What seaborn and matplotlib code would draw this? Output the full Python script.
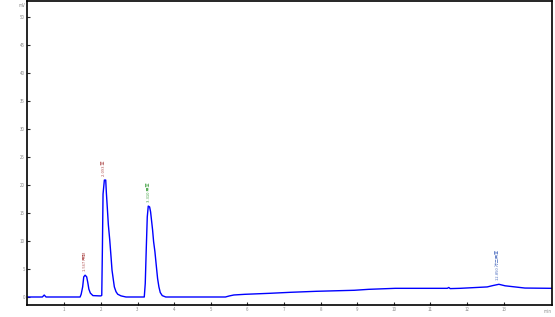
import matplotlib
matplotlib.use("Agg")
import matplotlib.pyplot as plt
import matplotlib.transforms as mtransforms
import seaborn as sns
import pandas as pd

# Chromatogram trace (time in min, signal in mV)
time_min = [0.00, 0.40, 0.45, 0.50, 1.43, 1.46, 1.50, 1.53, 1.567, 1.61, 1.64, 1.67, 1.71,
            1.78, 1.95, 2.00, 2.022, 2.04, 2.057, 2.093, 2.13, 2.148, 2.175, 2.202, 2.24,
            2.275, 2.302, 2.34, 2.366, 2.411, 2.457, 2.548, 2.684, 3.183, 3.21, 3.238,
            3.265, 3.292, 3.329, 3.356, 3.383, 3.41, 3.438, 3.474, 3.51, 3.547, 3.583,
            3.62, 3.674, 3.77, 5.40, 5.50, 5.63, 5.93, 6.61, 7.18, 7.89, 8.92, 9.31,
            10.04, 11.46, 11.50, 11.54, 11.81, 12.55, 12.71, 12.87, 13.04, 13.31, 13.58,
            14.32]
signal_mv = [0.00, 0.00, 0.35, 0.00, 0.00, 0.50, 1.80, 3.60, 3.90, 3.60, 2.60, 1.40, 0.70,
             0.25, 0.20, 0.20, 0.30, 8.90, 18.40, 20.90, 20.90, 18.60, 15.80, 12.90, 10.20,
             7.20, 4.80, 3.00, 1.80, 0.95, 0.50, 0.20, 0.00, 0.00, 2.40, 8.70,
             14.30, 16.25, 16.10, 15.20, 13.60, 12.00, 9.90, 8.10, 5.70, 3.30, 1.80,
             0.80, 0.25, 0.00, 0.00, 0.18, 0.36, 0.48, 0.66, 0.84, 1.02, 1.20, 1.37,
             1.55, 1.55, 1.70, 1.50, 1.55, 1.80, 2.05, 2.27, 2.00, 1.80, 1.60,
             1.55]

peak_times = [1.567, 2.093, 3.310, 12.850]
peak_heights = [3.9, 20.9, 16.25, 2.27]
peak_labels = ["1.567 甲醇", "2.093 苯", "3.310 甲苯", "12.850 对二甲苯"]
peak_label_colors = ["#b05050", "#b05050", "#40a040", "#5070c0"]

x_ticks = [1, 2, 3, 4, 5, 6, 7, 8, 9, 10, 11, 12, 13]
y_ticks = [0, 5, 10, 15, 20, 25, 30, 35, 40, 45, 50]

sns.set_style("ticks")
plt.rcParams['font.family'] = ['Noto Sans CJK SC', 'DejaVu Sans']

fig = plt.figure(figsize=(5.55, 3.17), dpi=100)
ax = fig.add_axes([27 / 555, 12 / 317, 525 / 555, 304 / 317])

df = pd.DataFrame({"t": time_min, "mV": signal_mv})
sns.lineplot(data=df, x="t", y="mV", ax=ax, color="#0000ff", linewidth=1.0,
             estimator=None, sort=False)

ax.set_xlim(-0.02, 14.32)
ax.set_ylim(-1.43, 52.9)
ax.set_xticks(x_ticks)
ax.set_yticks(y_ticks)
ax.set_xticklabels([str(v) for v in x_ticks])
ax.set_yticklabels([str(v) for v in y_ticks])
ax.set_xlabel("")
ax.set_ylabel("")
ax.tick_params(axis="both", direction="in", length=2, width=0.8, labelsize=3.2,
               labelcolor="#8a8a8a", pad=1.5)
for s in ax.spines.values():
    s.set_color("black")
    s.set_linewidth(1.2)

# axis unit labels
trans_x = mtransforms.blended_transform_factory(ax.transData, ax.transAxes)
ax.text(14.2, -0.012, "min", transform=trans_x, fontsize=3.2, color="#8a8a8a",
        ha="center", va="top")
ax.text(-0.004, 0.993, "mV", transform=ax.transAxes, fontsize=3.2, color="#8a8a8a",
        ha="right", va="top")

# peak annotations (rotated)
for t, h, lab, c in zip(peak_times, peak_heights, peak_labels, peak_label_colors):
    ax.annotate(lab, xy=(t, h), xytext=(0, 3), textcoords="offset points",
                rotation=90, fontsize=3.0, color=c, ha="center", va="bottom")

fig.savefig("out.png", dpi=100)
